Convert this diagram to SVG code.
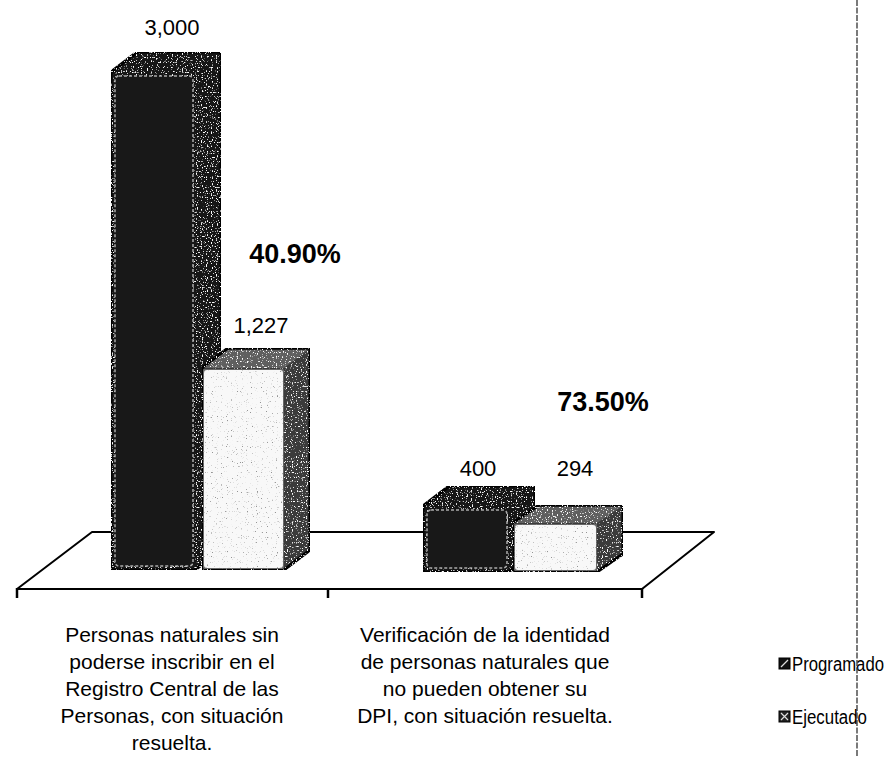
<svg xmlns="http://www.w3.org/2000/svg" width="892" height="757" viewBox="0 0 892 757">
<defs>
<filter id="speck" x="0" y="0" width="1" height="1">
<feTurbulence type="fractalNoise" baseFrequency="0.8" numOctaves="1" seed="3" result="n"/>
<feColorMatrix in="n" type="matrix" values="0 0 0 0 1  0 0 0 0 1  0 0 0 0 1  9 0 0 0 -5.4" result="dots"/>
<feComposite in="dots" in2="SourceGraphic" operator="in" result="d2"/>
<feMerge><feMergeNode in="SourceGraphic"/><feMergeNode in="d2"/></feMerge>
</filter>
<filter id="speckDark" x="0" y="0" width="1" height="1">
<feTurbulence type="fractalNoise" baseFrequency="0.8" numOctaves="1" seed="7" result="n"/>
<feColorMatrix in="n" type="matrix" values="0 0 0 0 0.3  0 0 0 0 0.3  0 0 0 0 0.3  9 0 0 0 -5.8" result="dots"/>
<feComposite in="dots" in2="SourceGraphic" operator="in" result="d2"/>
<feMerge><feMergeNode in="SourceGraphic"/><feMergeNode in="d2"/></feMerge>
</filter>
</defs>
<style>
text{font-family:"Liberation Sans",Arial,sans-serif;fill:#000}
.val{font-size:22px;text-anchor:middle}
.pct{font-size:27px;font-weight:bold;text-anchor:middle}
.cat{font-size:21px;text-anchor:middle}
.leg{font-size:20px}
.floor{fill:#fff;stroke:#000;stroke-width:2;stroke-linejoin:round}
.tick{stroke:#000;stroke-width:2.5}
.prog{fill:#121212;stroke:#000;stroke-width:3;stroke-linejoin:round}
.progface{fill:#181818;stroke:#aaa;stroke-width:1.5;stroke-dasharray:3 2}
.ejec{fill:#3a3a3a;stroke:#000;stroke-width:3;stroke-linejoin:round}
.ejectop{fill:#5e5e5e}
.ejecface{fill:#f8f8f8;stroke:#666;stroke-width:2;stroke-linejoin:round}
.sep{stroke:#333;stroke-width:1.3;stroke-dasharray:6 1.5}
</style>
<rect width="892" height="757" fill="#fff"/>
<g id="floor">
<polygon class="floor" points="17,589 92,532 714,532 642,589"/>
<line class="tick" x1="17" y1="588" x2="17" y2="598"/>
<line class="tick" x1="328" y1="588" x2="328" y2="598"/>
<line class="tick" x1="642" y1="588" x2="642" y2="598"/>
</g>
<g id="bar-programado-1">
<polygon class="prog" filter="url(#speck)" points="111,570 111,72 137,52 221,52 221,550 195,570"/>
<rect class="progface" x="115" y="76" width="78" height="490" rx="4"/>
</g>
<g id="bar-ejecutado-1">
<polygon class="ejec" filter="url(#speck)" points="202,570 202,368 228,348 310,348 310,550 284,570"/>
<polygon class="ejectop" filter="url(#speck)" points="204,368 228,350 308,350 284,368"/>
<rect class="ejecface" filter="url(#speckDark)" x="203" y="369" width="81" height="200" rx="4"/>
</g>
<g id="bar-programado-2">
<polygon class="prog" filter="url(#speck)" points="423,572 423,506 449,486 535,486 535,552 509,572"/>
<rect class="progface" x="427" y="510" width="80" height="58" rx="4"/>
</g>
<g id="bar-ejecutado-2">
<polygon class="ejec" filter="url(#speck)" points="513,572 513,523 539,505 623,505 623,554 597,572"/>
<polygon class="ejectop" filter="url(#speck)" points="515,523 539,507 621,507 597,523"/>
<rect class="ejecface" filter="url(#speckDark)" x="514" y="524" width="83" height="47" rx="4"/>
</g>
<g id="labels">
<text class="val" x="172" y="35">3,000</text>
<text class="val" x="261" y="333">1,227</text>
<text class="val" x="478" y="476">400</text>
<text class="val" x="575" y="476">294</text>
<text class="pct" x="295" y="263">40.90%</text>
<text class="pct" x="603" y="411">73.50%</text>
</g>
<g id="category-1">
<text class="cat" x="172" y="642">Personas naturales sin</text>
<text class="cat" x="172" y="669">poderse inscribir en el</text>
<text class="cat" x="172" y="696">Registro Central de las</text>
<text class="cat" x="172" y="723">Personas, con situación</text>
<text class="cat" x="172" y="750">resuelta.</text>
</g>
<g id="category-2">
<text class="cat" x="485" y="642">Verificación de la identidad</text>
<text class="cat" x="485" y="669">de personas naturales que</text>
<text class="cat" x="485" y="696">no pueden obtener su</text>
<text class="cat" x="485" y="723">DPI, con situación resuelta.</text>
</g>
<g id="legend">
<rect x="779" y="658" width="11" height="11" fill="#111" stroke="#000"/>
<path d="M781 667 L788 660" stroke="#ddd" stroke-width="1.2"/>
<text class="leg" x="792" y="671" textLength="92" lengthAdjust="spacingAndGlyphs">Programado</text>
<rect x="779" y="711" width="11" height="11" fill="#222" stroke="#000"/>
<path d="M781 713 L788 720 M781 720 L788 713" stroke="#ddd" stroke-width="1.2"/>
<text class="leg" x="792" y="724" textLength="75" lengthAdjust="spacingAndGlyphs">Ejecutado</text>
</g>
<line class="sep" x1="857" y1="0" x2="857" y2="757"/>
</svg>
